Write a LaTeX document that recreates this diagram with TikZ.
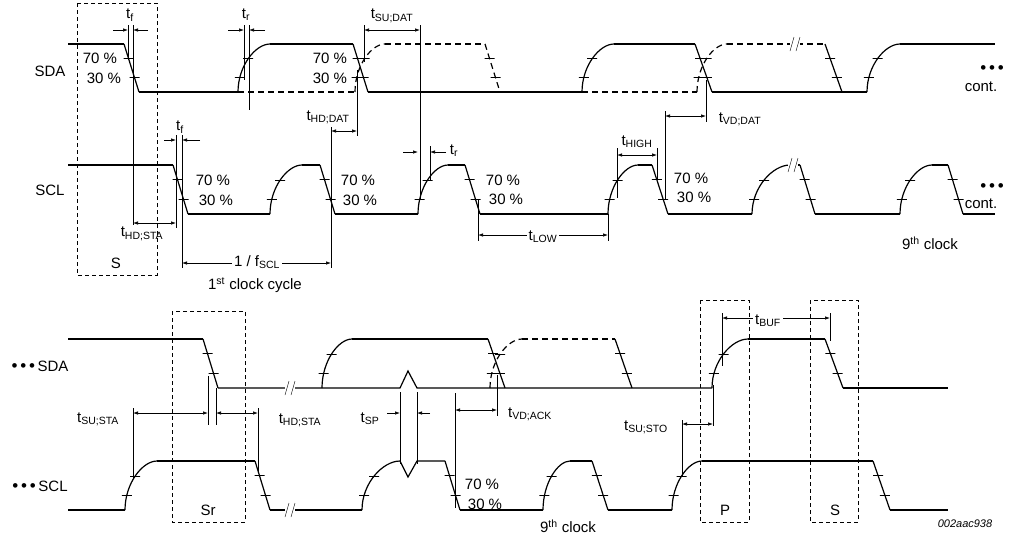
\documentclass[tikz,border=0pt]{standalone}
\usepackage{fontspec}
\setmainfont{Liberation Sans}
\usetikzlibrary{arrows.meta}
\newcommand\Ts[2]{#1\textsubscript{#2}}
\newcommand\Fall[5][]{\draw[#1] (#2,#4) -- node[pos=.3,tk]{} node[pos=.7,tk]{} (#3,#5);}
\newcommand\Rise[5][]{\draw[#1] (#2,#5) .. controls +(0,{0.55*(#4-#5)}) and +({-0.45*(#3-#2)},0) .. node[pos=.19,tk]{} node[pos=.49,tk]{} (#3,#4);}
\newcommand\Brk[2]{\fill[white] (#1-5,#2-3) rectangle (#1+5,#2+3); \draw[thin] (#1-5,#2+7)--(#1-1,#2-7) (#1+1,#2+7)--(#1+5,#2-7);}
\newcommand\Dots{{\fontsize{17}{15}\selectfont\textbullet\,\textbullet\,\textbullet}}
\begin{document}
\begin{tikzpicture}[x=1pt,y=-1pt,line width=1.2pt,
 tk/.style={draw,solid,rectangle,minimum width=10pt,minimum height=0pt,inner sep=0pt,line width=0.7pt},
 dim/.style={line width=0.7pt,{Latex[length=5pt,width=3.5pt]}-{Latex[length=5pt,width=3.5pt]}},
 ptr/.style={line width=0.7pt,-{Latex[length=5pt,width=3.5pt]}},
 gl/.style={line width=0.7pt},
 box/.style={line width=0.8pt,dash pattern=on 4pt off 3pt},
 dsh/.style={dash pattern=on 6pt off 4pt},
 lb/.style={font=\fontsize{15}{17}\selectfont,inner sep=1pt},
 sm/.style={font=\fontsize{11}{12}\selectfont\itshape,inner sep=1pt}]
\useasboundingbox (0,0) rectangle (1011,539);
% ===== top SDA
\draw (68,44)--(124,44); \Fall{124}{139}{44}{92}
\draw (139,92)--(238,92); \Rise{238}{270}{44}{92}
\draw (270,44)--(353,44); \Fall{353}{368}{44}{92}
\draw[dsh] (238,92)--(355,92); \Rise[dsh]{355}{385}{44}{92}
\draw[dsh] (385,44)--(485,44); \Fall[dsh]{485}{500}{44}{92}
\draw (368,92)--(582,92); \Rise{582}{614}{44}{92}
\draw (614,44)--(695,44); \Fall{695}{712}{44}{92}
\draw[dsh] (582,92)--(697,92); \Rise[dsh]{697}{727}{44}{92}
\draw[dsh] (727,44)--(825,44); \Brk{795}{44}
\Fall{825}{842}{44}{92}
\draw (712,92)--(867,92); \Rise{867}{900}{44}{92}
\draw (900,44)--(995,44);
% ===== top SCL
\draw (68,165)--(173,165); \Fall{173}{188}{165}{214}
\draw (188,214)--(270,214); \Rise{270}{302}{165}{214}
\draw (302,165)--(320,165); \Fall{320}{335}{165}{214}
\draw (335,214)--(418,214); \Rise{418}{448}{165}{214}
\draw (448,165)--(465,165); \Fall{465}{480}{165}{214}
\draw (480,214)--(608,214); \Rise{608}{638}{165}{214}
\draw (638,165)--(652,165); \Fall{652}{668}{165}{214}
\draw (668,214)--(752,214); \Rise{752}{790}{165}{214}
\draw (790,165)--(800,165); \Brk{793}{165} \Fall{800}{815}{165}{214}
\draw (815,214)--(900,214); \Rise{900}{932}{165}{214}
\draw (932,165)--(948,165); \Fall{948}{963}{165}{214}
\draw (963,214)--(995,214);
% top guides
\draw[gl] (128,25)--(128,60) (133,25)--(133,225);
\draw[ptr] (113,30)--(128,30); \draw[ptr] (148,30)--(133,30);
\node[lb] at (130,15) {\Ts{t}{f}};
\draw[gl] (244,25)--(244,80) (249,25)--(249,110);
\draw[ptr] (228,30)--(244,30); \draw[ptr] (265,30)--(249,30);
\node[lb] at (246,15) {\Ts{t}{r}};
\draw[gl] (364,25)--(364,62) (420,25)--(420,200);
\draw[dim] (364,30)--(420,30); \node[lb] at (392,16) {\Ts{t}{SU;DAT}};
\draw[gl] (357,70)--(357,136) (331,127)--(331,268);
\draw[dim] (331,131)--(357,131); \node[lb] at (328,117) {\Ts{t}{HD;DAT}};
\draw[gl] (176,135)--(176,228) (182,135)--(182,268);
\draw[ptr] (164,140)--(176,140); \draw[ptr] (200,140)--(182,140);
\node[lb] at (180,127) {\Ts{t}{f}};
\draw[dim] (133,223)--(176,223); \node[lb] at (142,234) {\Ts{t}{HD;STA}};
\draw[dim] (182,263)--(331,263); \node[lb,fill=white,inner sep=2pt] at (257,262) {1 / \Ts{f}{SCL}};
\node[lb] at (255,285) {1\textsuperscript{st} clock cycle};
\draw[gl] (430,146)--(430,180);
\draw[ptr] (403,152)--(418,152); \draw[ptr] (446,152)--(430,152);
\node[lb] at (454,151) {\Ts{t}{r}};
\draw[gl] (478,200)--(478,241) (608,214)--(608,241);
\draw[dim] (478,235)--(608,235); \node[lb,fill=white,inner sep=2pt] at (543,237) {\Ts{t}{LOW}};
\draw[gl] (617,148)--(617,198) (657,148)--(657,180);
\draw[dim] (617,155)--(657,155); \node[lb] at (637,142) {\Ts{t}{HIGH}};
\draw[gl] (665,111)--(665,200) (706,80)--(706,122);
\draw[dim] (665,116)--(706,116); \node[lb] at (740,119) {\Ts{t}{VD;DAT}};
\draw[box] (77,3) rectangle (157,275); \node[lb] at (116,263) {S};
\node[lb] at (50,71) {SDA}; \node[lb] at (50,190) {SCL};
\node[lb] at (100,58) {70 \%}; \node[lb] at (104,78) {30 \%};
\node[lb] at (330,58) {70 \%}; \node[lb] at (330,78) {30 \%};
\node[lb] at (213,180) {70 \%}; \node[lb] at (216,200) {30 \%};
\node[lb] at (358,180) {70 \%}; \node[lb] at (360,200) {30 \%};
\node[lb] at (503,180) {70 \%}; \node[lb] at (506,199) {30 \%};
\node[lb] at (691,178) {70 \%}; \node[lb] at (694,197) {30 \%};
\node[lb] at (992,70) {\Dots}; \node[lb] at (981,87) {cont.};
\node[lb] at (992,188) {\Dots}; \node[lb] at (981,204) {cont.};
\node[lb] at (930,243) {9\textsuperscript{th} clock};
% ===== bottom SDA
\draw (68,339)--(203,339); \Fall{203}{218}{339}{388}
\draw (218,388)--(400,388)--(408,371)--(417,388)--(712,388); \Brk{290}{388}
\Rise{322}{352}{339}{388}
\draw (352,339)--(488,339); \Fall{488}{505}{339}{388}
\Rise[dsh]{490}{522}{339}{388}
\draw[dsh] (522,339)--(615,339); \Fall{615}{632}{339}{388}
\Rise{712}{748}{339}{388}
\draw (748,339)--(825,339); \Fall{825}{843}{339}{388}
\draw (843,388)--(948,388);
% bottom SCL
\draw (68,510)--(125,510); \Rise{125}{157}{461}{510}
\draw (157,461)--(255,461); \Fall{255}{270}{461}{510}
\draw (270,510)--(362,510); \Brk{290}{510}
\Rise{362}{400}{461}{510}
\draw (400,461)--(408,477)--(417,461)--(445,461); \Fall{445}{460}{461}{510}
\draw (460,510)--(543,510); \Rise{543}{570}{461}{510}
\draw (570,461)--(592,461); \Fall{592}{608}{461}{510}
\draw (608,510)--(672,510); \Rise{672}{702}{461}{510}
\draw (702,461)--(873,461); \Fall{873}{890}{461}{510}
\draw (890,510)--(948,510);
% bottom guides
\draw[gl] (133,408)--(133,478) (208,376)--(208,425) (216,388)--(216,425) (258,408)--(258,472);
\draw[dim] (133,413)--(208,413); \draw[dim] (216,413)--(258,413);
\node[lb] at (98,419) {\Ts{t}{SU;STA}}; \node[lb] at (300,420) {\Ts{t}{HD;STA}};
\draw[gl] (400,392)--(400,464) (417,392)--(417,464);
\draw[ptr] (387,413)--(400,413); \draw[ptr] (430,413)--(417,413);
\node[lb] at (370,419) {\Ts{t}{SP}};
\draw[gl] (455,393)--(455,508) (497,375)--(497,416);
\draw[dim] (455,410)--(497,410); \node[lb] at (530,414) {\Ts{t}{VD;ACK}};
\node[lb] at (482,484) {70 \%}; \node[lb] at (485,504) {30 \%};
\draw[gl] (682,420)--(682,477) (713,385)--(713,426);
\draw[dim] (682,424)--(713,424); \node[lb] at (646,427) {\Ts{t}{SU;STO}};
\draw[gl] (722,313)--(722,366) (830,313)--(830,341);
\draw[dim] (722,318)--(830,318); \node[lb,fill=white,inner sep=2pt] at (768,321) {\Ts{t}{BUF}};
\draw[box] (172,311) rectangle (245,522); \node[lb] at (208,510) {Sr};
\draw[box] (700,300) rectangle (749,522); \node[lb] at (725,510) {P};
\draw[box] (810,300) rectangle (858,522); \node[lb] at (835,510) {S};
\node[lb] at (40,366) {\Dots\,SDA};
\node[lb] at (40,486) {\Dots\,SCL};
\node[lb] at (568,526) {9\textsuperscript{th} clock};
\node[sm] at (965,524) {002aac938};
\end{tikzpicture}
\end{document}
